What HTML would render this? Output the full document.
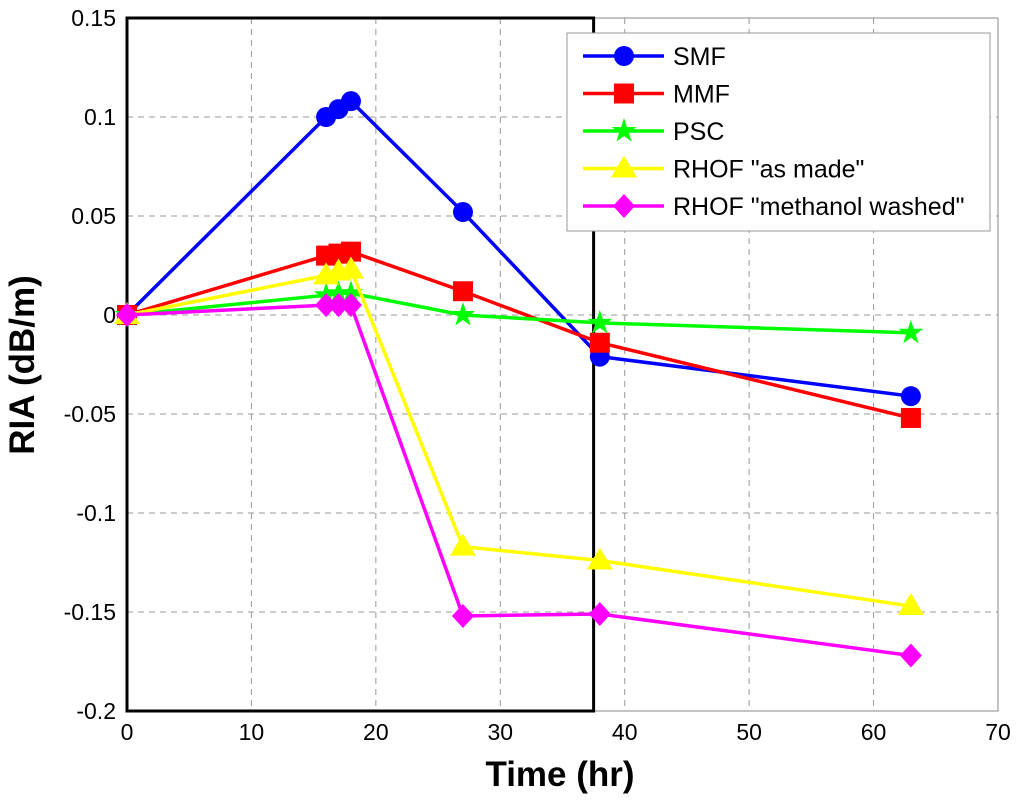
<!DOCTYPE html>
<html><head><meta charset="utf-8"><style>
body{margin:0;background:#fff;}
svg{display:block;font-family:"Liberation Sans",Arial,sans-serif;}
</style></head><body>
<svg id="chart" width="1024" height="801" viewBox="0 0 1024 801">
<g id="grid"></g>
<g id="axes"></g>
<g id="series"></g>
<text x="34" y="365" font-size="35" font-weight="bold" text-anchor="middle" transform="rotate(-90 34 365)">RIA (dB/m)</text>
<text x="560" y="786" font-size="35" font-weight="bold" text-anchor="middle">Time (hr)</text>
<g id="legend"></g>
</svg>
<script>
const xTicks=[0,10,20,30,40,50,60,70];
const yTicks=[0.15,0.1,0.05,0,-0.05,-0.1,-0.15,-0.2];
const yTickLabels=["0.15","0.1","0.05","0","-0.05","-0.1","-0.15","-0.2"];
const times=[0,16,17,18,27,38,63];
const smf=[0,0.100,0.104,0.108,0.052,-0.021,-0.041];
const mmf=[0,0.030,0.031,0.032,0.012,-0.014,-0.052];
const psc=[0,0.010,0.011,0.011,0,-0.004,-0.009];
const rhofMade=[0,0.020,0.022,0.023,-0.117,-0.124,-0.147];
const rhofWashed=[0,0.005,0.005,0.005,-0.152,-0.151,-0.172];
const boxEnd=37.5;
const seriesNames=["SMF","MMF","PSC","RHOF \"as made\"","RHOF \"methanol washed\""];

const NS="http://www.w3.org/2000/svg";
const X0=127,X1=998,Y0=18,Y1=711;
const xs=v=>X0+(v-0)/70*(X1-X0);
const ys=v=>Y0+(0.15-v)/0.35*(Y1-Y0);
function mk(tag,attrs,parent){const e=document.createElementNS(NS,tag);for(const k in attrs)e.setAttribute(k,attrs[k]);parent.appendChild(e);return e;}
const grid=document.getElementById('grid'),axes=document.getElementById('axes'),ser=document.getElementById('series'),leg=document.getElementById('legend');
xTicks.forEach((t,i)=>{
  if(i>0&&i<xTicks.length-1){const l=mk('line',{x1:xs(t),x2:xs(t),y1:Y0,y2:Y1,stroke:'#999','stroke-dasharray':'6,5','stroke-width':1},grid);
  }
  const tx=mk('text',{x:xs(t),y:Y1+29,'font-size':23,'text-anchor':'middle'},axes);tx.textContent=t;
  
});
yTicks.forEach((t,i)=>{
  if(i>0&&i<yTicks.length-1){const l=mk('line',{x1:X0,x2:X1,y1:ys(t),y2:ys(t),stroke:'#999','stroke-dasharray':'6,5','stroke-width':1},grid);
  }
  const tx=mk('text',{x:X0-11,y:ys(t)+8,'font-size':23,'text-anchor':'end'},axes);tx.textContent=yTickLabels[i];
  
});
const frame=mk('rect',{x:X0,y:Y0,width:X1-X0,height:Y1-Y0,fill:'none',stroke:'#888','stroke-width':1},axes);

const box=mk('rect',{x:xs(0),y:Y0,width:xs(boxEnd)-xs(0),height:Y1-Y0,fill:'none',stroke:'#000','stroke-width':3},axes);


function marker(type,cx,cy,color,p){
  let e;
  if(type==='circle')e=mk('circle',{cx,cy,r:10,fill:color},p);
  else if(type==='square')e=mk('rect',{x:cx-10,y:cy-10,width:20,height:20,fill:color},p);
  else if(type==='star'){let pts=[];for(let k=0;k<10;k++){const r=k%2?5:13,a=-Math.PI/2+k*Math.PI/5;pts.push((cx+r*Math.cos(a)).toFixed(1)+','+(cy+r*Math.sin(a)).toFixed(1));}e=mk('polygon',{points:pts.join(' '),fill:color},p);}
  else if(type==='tri')e=mk('polygon',{points:`${cx},${cy-13} ${cx+13},${cy+9} ${cx-13},${cy+9}`,fill:color},p);
  else e=mk('polygon',{points:`${cx},${cy-12} ${cx+11},${cy} ${cx},${cy+12} ${cx-11},${cy}`,fill:color},p);
  return e;
}
const all=[[smf,'#0000ff','circle'],[mmf,'#ff0000','square'],[psc,'#00ff00','star'],[rhofMade,'#ffff00','tri'],[rhofWashed,'#ff00ff','diamond']];
all.forEach(([vals,color,type],si)=>{
  const g=mk('g',{},ser);
  const pl=mk('polyline',{points:vals.map((v,i)=>xs(times[i])+','+ys(v)).join(' '),fill:'none',stroke:color,'stroke-width':3.5},g);
  
  vals.forEach((v,i)=>{const m=marker(type,xs(times[i]),ys(v),color,g);
    });
});
const lb=mk('rect',{x:567,y:33,width:423,height:198,fill:'#fff',stroke:'#999','stroke-width':1},leg);

all.forEach(([vals,color,type],i)=>{
  const y=56+i*37.5;
  const g=mk('g',{},leg);
  mk('line',{x1:583,x2:664,y1:y,y2:y,stroke:color,'stroke-width':3.5},g);
  marker(type,624,y,color,g);
  const t=mk('text',{x:673,y:y+9,'font-size':25},g);t.textContent=seriesNames[i];
});
</script>
</body></html>
